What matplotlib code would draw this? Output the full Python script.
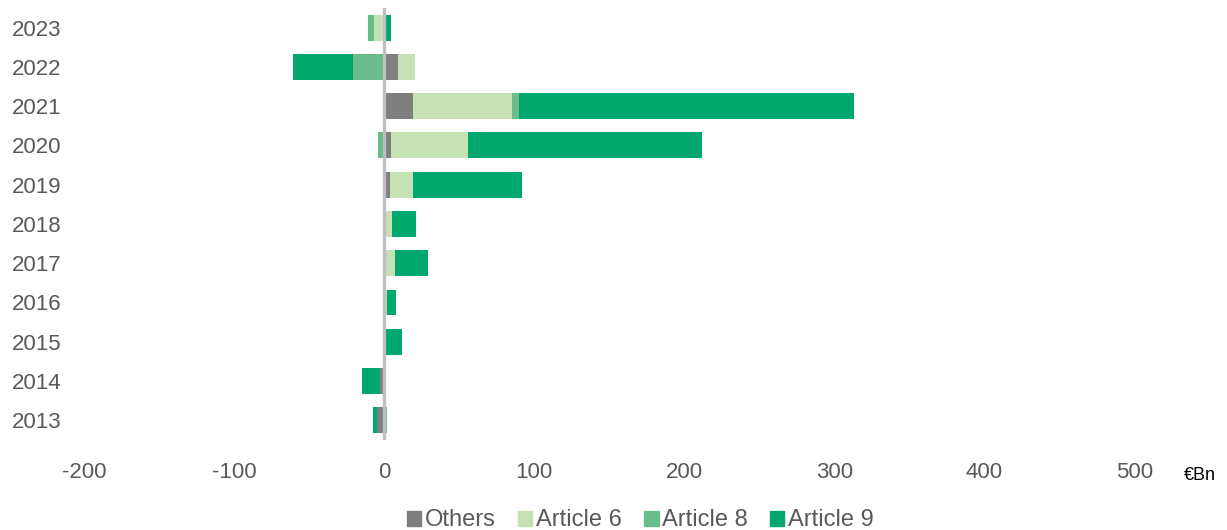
import numpy as np
import matplotlib.pyplot as plt
from matplotlib.patches import Patch

plt.rcParams['font.family'] = ['Liberation Sans', 'DejaVu Sans']
plt.rcParams['axes.unicode_minus'] = False

# flows by year, €Bn
years = ['2013', '2014', '2015', '2016', '2017', '2018', '2019', '2020', '2021', '2022', '2023']
others = [-4.5, -2.5, 0, 0, 0, 0, 4, 4.5, 19, 9.5, 0]
article6 = [0, 0, 0, 2, 7.5, 5, 15, 51.5, 66, 11, -6.5]
article8 = [2, 0, 0, 0, 0, 0, 0, -4, 5, -21, -4.5]
article9 = [-2.7, -12, 11.8, 5.8, 21.5, 16, 73, 156, 223, -40, 4.7]

series = [('Others', others, '#7f7f7f'),
          ('Article 6', article6, '#c6e2b5'),
          ('Article 8', article8, '#6abc8a'),
          ('Article 9', article9, '#00a86d')]

fig = plt.figure(figsize=(12.27, 5.30), dpi=100)
ax = fig.add_axes([0.0685, 0.170, 0.856, 0.815])

y = np.arange(len(years))
pos_base = np.zeros(len(years))
neg_base = np.zeros(len(years))
for name, vals, col in series:
    v = np.array(vals, dtype=float)
    left = np.where(v >= 0, pos_base, neg_base)
    ax.barh(y, v, left=left, height=0.66, color=col, label=name, zorder=2)
    pos_base += np.where(v >= 0, v, 0)
    neg_base += np.where(v < 0, v, 0)

ax.axvline(0, color='#bfbfbf', lw=2.4, zorder=3)

ax.set_xlim(-200, 500)
ax.set_ylim(-0.5, len(years) - 0.5)
ax.set_xticks(np.arange(-200, 501, 100))
ax.set_yticks(y)
ax.set_yticklabels(years)
for s in ax.spines.values():
    s.set_visible(False)
ax.tick_params(axis='both', length=0, labelsize=16, labelcolor='#595959')
ax.tick_params(axis='x', pad=16)
ax.tick_params(axis='y', pad=16)

fig.text(0.978, 0.102, '€Bn', ha='center', va='center', fontsize=13, color='#000000')

handles = [Patch(color=c, label=n) for n, _, c in series]
fig.legend(handles=handles, loc='center', bbox_to_anchor=(0.522, 0.018), ncol=4,
           frameon=False, fontsize=17, labelcolor='#595959', handlelength=0.6,
           handleheight=0.6, handletextpad=0.15, columnspacing=0.95, borderpad=0)

fig.savefig('out.png', dpi=100)
